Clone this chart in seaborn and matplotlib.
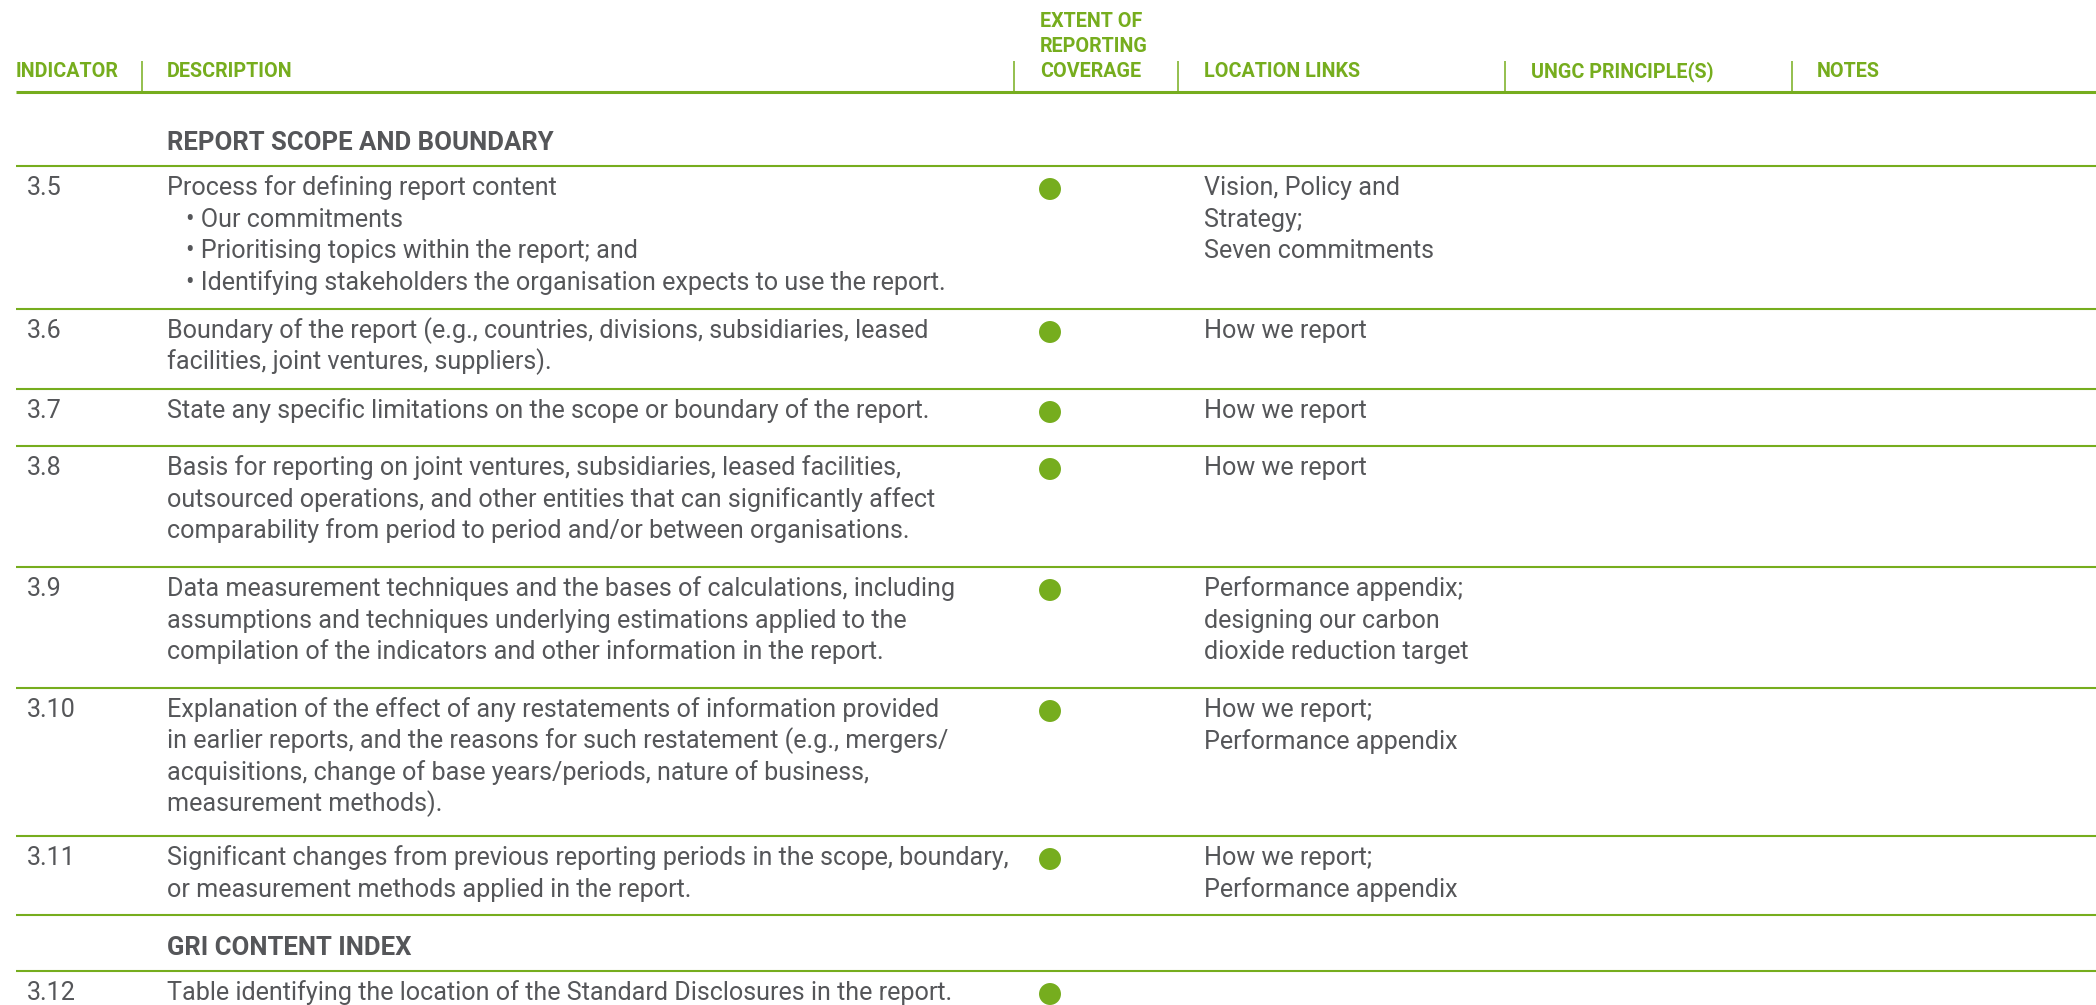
import pandas as pd
import matplotlib.pyplot as plt
import seaborn as sns

# Table data
indicators = ["3.5", "3.6", "3.7", "3.8", "3.9", "3.10", "3.11", "3.12"]
descriptions = [
    ["Process for defining report content",
     "• Our commitments",
     "• Prioritising topics within the report; and",
     "• Identifying stakeholders the organisation expects to use the report."],
    ["Boundary of the report (e.g., countries, divisions, subsidiaries, leased",
     "facilities, joint ventures, suppliers)."],
    ["State any specific limitations on the scope or boundary of the report."],
    ["Basis for reporting on joint ventures, subsidiaries, leased facilities,",
     "outsourced operations, and other entities that can significantly affect",
     "comparability from period to period and/or between organisations."],
    ["Data measurement techniques and the bases of calculations, including",
     "assumptions and techniques underlying estimations applied to the",
     "compilation of the indicators and other information in the report."],
    ["Explanation of the effect of any restatements of information provided",
     "in earlier reports, and the reasons for such restatement (e.g., mergers/",
     "acquisitions, change of base years/periods, nature of business,",
     "measurement methods)."],
    ["Significant changes from previous reporting periods in the scope, boundary,",
     "or measurement methods applied in the report."],
    ["Table identifying the location of the Standard Disclosures in the report."],
]
coverage = ["full", "full", "full", "full", "full", "full", "full", "full"]
locations = [
    ["Vision, Policy and", "Strategy;", "Seven commitments"],
    ["How we report"],
    ["How we report"],
    ["How we report"],
    ["Performance appendix;", "designing our carbon", "dioxide reduction target"],
    ["How we report;", "Performance appendix"],
    ["How we report;", "Performance appendix"],
    [],
]
sections = ["REPORT SCOPE AND BOUNDARY", "GRI CONTENT INDEX"]
section_before = ["3.5", "3.12"]
headers = ["INDICATOR", "DESCRIPTION", "EXTENT OF\nREPORTING\nCOVERAGE",
           "LOCATION LINKS", "UNGC PRINCIPLE(S)", "NOTES"]

# Layout (pixels)
W, H = 2096, 1005
GREEN = "#76ad1e"
GREY = "#555659"
col_x = [16, 167, 1040, 1204, 1531, 1817]
sep_x = [142, 1014, 1178, 1505, 1792]
bullet_x = 186
section_h = [74, 56]
row_h = [143, 80, 57, 121, 121, 148, 79, 60]
line_h = 31.5
body_fs = 18.1

sns.set_theme(style="white")
plt.rcParams['font.family'] = ['Roboto', 'DejaVu Sans']

fig = plt.figure(figsize=(W / 100, H / 100), dpi=100)
ax = fig.add_axes([0, 0, 1, 1])

# Header
header_base = 77
for x, h in zip(col_x, headers):
    lines = h.split("\n")
    for i, ln in enumerate(reversed(lines)):
        ax.text(x, header_base - i * 25, ln, color=GREEN, fontsize=14.2,
                fontweight='bold', va='baseline', ha='left')
ax.vlines(sep_x, 61, 92, color=GREEN, lw=1.1)
ax.hlines(92, 16, W, color=GREEN, lw=2.2)

# Body rows
y = 92
sec_i = 0
dot_rows = []
for k, ind in enumerate(indicators):
    if ind in section_before:
        h = section_h[sec_i]
        ax.text(col_x[1], y + h - 16, sections[sec_i], color=GREY, fontsize=18.5,
                fontweight='bold', va='baseline', ha='left')
        y += h
        ax.hlines(y, 16, W, color=GREEN, lw=1.5)
        sec_i += 1
    top = y
    ax.text(27, top + 29, ind, color=GREY, fontsize=body_fs, va='baseline')
    for i, ln in enumerate(descriptions[k]):
        x = bullet_x if ln.startswith("•") else col_x[1]
        ax.text(x, top + 29 + i * line_h, ln, color=GREY, fontsize=body_fs,
                va='baseline')
    for i, ln in enumerate(locations[k]):
        ax.text(col_x[3], top + 29 + i * line_h, ln, color=GREY, fontsize=body_fs,
                va='baseline')
    dot_rows.append({"indicator": ind, "coverage": coverage[k], "x": 1050, "y": top + 23})
    y += row_h[k]
    if k < len(indicators) - 1:
        ax.hlines(y, 16, W, color=GREEN, lw=1.5)

dots = pd.DataFrame(dot_rows)
sns.scatterplot(data=dots[dots["coverage"] == "full"], x="x", y="y", ax=ax,
                s=250, color=GREEN, edgecolor='none', legend=False, zorder=3)
ax.set_xlim(0, W)
ax.set_ylim(H, 0)
ax.axis('off')

fig.savefig("out.png", dpi=100)
